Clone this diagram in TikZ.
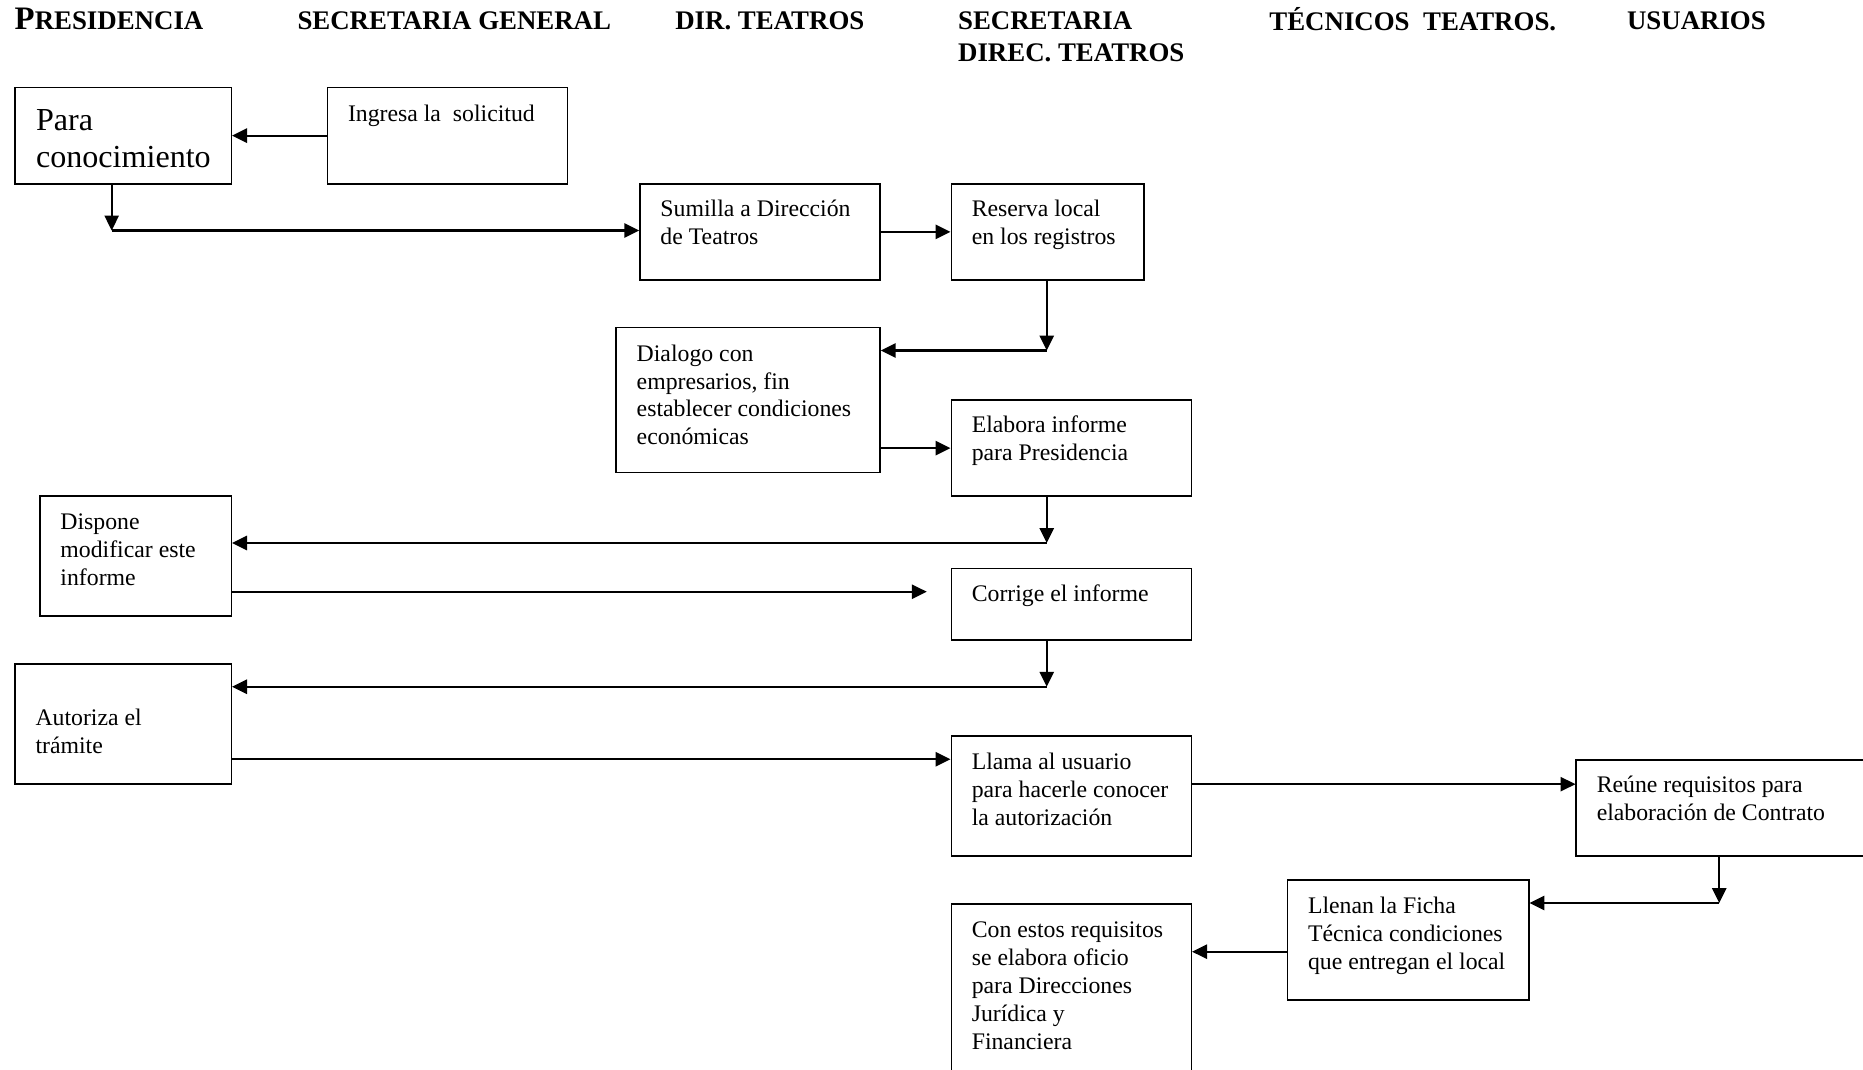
\documentclass[tikz,border=0pt]{standalone}
\usepackage{fontspec}
\setmainfont{Liberation Serif}
\usetikzlibrary{arrows.meta}

\begin{document}
\begin{tikzpicture}[x=0.5pt,y=-0.5pt,
  caja/.style={draw,line width=0.65pt,rectangle,inner sep=0pt,anchor=north west},
  texto/.style={anchor=north west,inner sep=0pt,align=left,font=\fontsize{10}{11.75}\selectfont},
  titulo/.style={anchor=north west,inner sep=0pt,align=left,font=\bfseries\fontsize{11.3}{13.5}\selectfont},
  flecha/.style={line width=0.85pt,-{Triangle[length=6.3pt,width=6pt]}}]
  \useasboundingbox (0,0) rectangle (1568,900);
  \clip (0,0) rectangle (1568,900);

  % columnas
  \node[titulo] (presidencia) at (12,5.5) {\strut{\fontsize{13.8}{15}\selectfont P}RESIDENCIA};
  \node[titulo] (secgeneral) at (250,5.5) {\strut SECRETARIA GENERAL};
  \node[titulo] (dirteatros) at (568,5.5) {\strut DIR. TEATROS};
  \node[titulo] (secdirec) at (806,5.5) {\strut SECRETARIA\\DIREC. TEATROS};
  \node[titulo] (tecnicos) at (1068,5.5) {\strut TÉCNICOS\ \ TEATROS.};
  \node[titulo] (usuarios) at (1369,5.5) {\strut USUARIOS};

  % cajas
  \node[caja,minimum width=91pt,minimum height=40.5pt] (conoc) at (12,73) {};
  \node[texto,font=\fontsize{13.5}{15.5}\selectfont] (conoc-t) at (30,87.5) {\strut Para\\conocimiento};
  \foreach \nom/\px/\py/\an/\al/\bl/\txt in {
      ingresa/275/73/202/81/28.5/{Ingresa la\ \ solicitud},
      sumilla/538/154/202/81/28/{Sumilla a Dirección\\de Teatros},
      reserva/800/154/162/81/28/{Reserva local\\en los registros},
      dialogo/518/275/222/122/28.5/{Dialogo con\\empresarios, fin\\establecer condiciones\\económicas},
      elabora/800/336/202/81/28/{Elabora informe\\para Presidencia},
      dispone/33/417/161/101/28/{Dispone\\modificar este\\informe},
      corrige/800/478/202/60/28/{Corrige el informe},
      autoriza/12/558/182/101/52/{Autoriza el\\trámite},
      llama/800/619/202/101/28.5/{Llama al usuario\\para hacerle conocer\\la autorización},
      reune/1326/639/250/81/28/{Reúne requisitos para\\elaboración de Contrato},
      llenan/1083/740/203/101/28.5/{Llenan la Ficha\\Técnica condiciones\\que entregan el local},
      con/800/760/202/150/28.5/{Con estos requisitos\\se elabora oficio\\para Direcciones\\Jurídica y\\Financiera}} {
    \node[caja,minimum width=\an*0.5pt,minimum height=\al*0.5pt] (\nom) at (\px,\py) {};
    \node[texto] (\nom-t) at (\px+17.5,\py+\bl-16.45) {\strut\txt};
  }

  % puntos de paso
  \coordinate (p1) at (94,194);
  \coordinate (p2) at (881,295);
  \coordinate (p3) at (881,457);
  \coordinate (p4) at (780,498);
  \coordinate (p5) at (881,578);
  \coordinate (p6) at (500,639);
  \coordinate (p7) at (1100,660);
  \coordinate (p8) at (1447,760);
  \coordinate (p9) at (1040,801);

  % flechas
  \draw[flecha] (ingresa.west) -- (conoc.east);
  \draw[flecha] (conoc.south -| p1) -- (p1);
  \draw[flecha] (p1) -- (sumilla.west |- p1);
  \draw[flecha] (sumilla.east) -- (reserva.west);
  \draw[flecha] (reserva.south -| p2) -- (p2);
  \draw[flecha] (p2) -- (dialogo.east |- p2);
  \draw[flecha] (dialogo.east |- elabora.west) -- (elabora.west);
  \draw[flecha] (elabora.south -| p3) -- (p3);
  \draw[flecha] (p3) -- (dispone.east |- p3);
  \draw[flecha] (dispone.east |- p4) -- (p4);
  \draw[flecha] (corrige.south -| p5) -- (p5);
  \draw[flecha] (p5) -- (autoriza.east |- p5);
  \draw[flecha] (autoriza.east |- p6) -- (llama.west |- p6);
  \draw[flecha] (llama.east |- p7) -- (reune.west |- p7);
  \draw[flecha] (reune.south -| p8) -- (p8);
  \draw[flecha] (p8) -- (llenan.east |- p8);
  \draw[flecha] (llenan.west |- p9) -- (con.east |- p9);
\end{tikzpicture}
\end{document}
